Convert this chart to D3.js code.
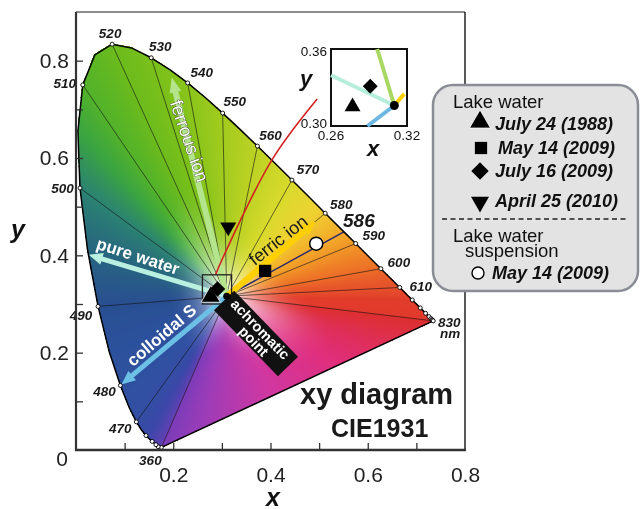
<!DOCTYPE html>
<html>
<head>
<meta charset="utf-8">
<script src="https://cdn.jsdelivr.net/npm/d3@7.9.0/dist/d3.min.js"></script>
<style>
  body { margin: 0; background: #fff; }
  #wrap { position: relative; width: 641px; height: 509px; overflow: hidden; }
  #wrap canvas, #wrap svg { position: absolute; left: 0; top: 0; }
  text { font-family: "Liberation Sans", Arial, sans-serif; }
</style>
</head>
<body>
<div id="wrap">
  <canvas id="gamut" width="641" height="509"></canvas>
  <svg id="chart" width="641" height="509"></svg>
</div>
<script>
// spectral locus, CIE 1931 2 deg observer
const nm = [360,365,370,375,380,385,390,395,400,405,
            410,415,420,425,430,435,440,445,450,455,
            460,465,470,475,480,485,490,495,500,505,
            510,515,520,525,530,535,540,545,550,555,
            560,565,570,575,580,585,590,595,600,605,
            610,615,620,625,630,635,640,645,650,655,
            660,665,670,675,680,685,690,695,700,830];
const cieX = [0.1756,0.1752,0.1748,0.1745,0.1741,0.1740,0.1738,0.1736,0.1733,0.1730,
              0.1726,0.1721,0.1714,0.1703,0.1689,0.1669,0.1644,0.1611,0.1566,0.1510,
              0.1440,0.1355,0.1241,0.1096,0.0913,0.0687,0.0454,0.0235,0.0082,0.0039,
              0.0139,0.0389,0.0743,0.1142,0.1547,0.1929,0.2296,0.2658,0.3016,0.3374,
              0.3731,0.4087,0.4441,0.4788,0.5125,0.5448,0.5752,0.6029,0.6270,0.6482,
              0.6658,0.6801,0.6915,0.7006,0.7079,0.7140,0.7190,0.7230,0.7260,0.7283,
              0.7300,0.7311,0.7320,0.7327,0.7334,0.7340,0.7344,0.7346,0.7347,0.7347];
const cieY = [0.0053,0.0053,0.0052,0.0052,0.0050,0.0050,0.0049,0.0049,0.0048,0.0048,
              0.0048,0.0048,0.0051,0.0058,0.0069,0.0086,0.0109,0.0138,0.0177,0.0227,
              0.0297,0.0399,0.0578,0.0868,0.1327,0.2007,0.2950,0.4127,0.5384,0.6548,
              0.7502,0.8120,0.8338,0.8262,0.8059,0.7816,0.7543,0.7243,0.6923,0.6589,
              0.6245,0.5896,0.5547,0.5202,0.4866,0.4544,0.4242,0.3965,0.3725,0.3514,
              0.3340,0.3197,0.3083,0.2993,0.2920,0.2859,0.2809,0.2770,0.2740,0.2717,
              0.2700,0.2689,0.2680,0.2673,0.2666,0.2660,0.2656,0.2654,0.2653,0.2653];

const labelledNm = [360,470,480,490,500,510,520,530,540,550,560,570,580,590,600,610,830];
const markedNm = [360,430,440,450,460,470,480,490,500,510,520,530,540,550,560,570,580,590,
                  600,610,620,630,640,650,660,670,680,830];
const radialNm = [360,470,480,490,500,510,520,530,540,550,560,570,580,590,600,610,830];
const dominantNm = 586;

const achromatic = [0.310, 0.316];

// lake water samples
const sampleLabels = ['July 24 (1988)', 'May 14 (2009)', 'July 16 (2009)', 'April 25 (2010)'];
const sampleX = [0.277, 0.389, 0.291, 0.313];
const sampleY = [0.315, 0.368, 0.331, 0.458];
// lake water suspension
const suspensionLabels = ['May 14 (2009)'];
const suspensionX = [0.494];
const suspensionY = [0.424];

// direction arrows (end points)
const pureWaterEnd = [0.026, 0.401];
const connector = [[0.287, 0.36], [0.302, 0.395], [0.403, 0.596], [0.496, 0.721]];

// ---------- layout / style ----------
const x = d3.scaleLinear([0, 0.8], [76, 465]);
const y = d3.scaleLinear([0, 0.9], [450, 12]);
const xi = d3.scaleLinear([0.26, 0.32], [331, 407]);
const yi = d3.scaleLinear([0.30, 0.36], [126, 49]);

const labelOffset = {
  360: [-11, 17.6], 470: [-16, 11], 480: [-16, 10.6], 490: [-17, 13.5], 500: [-17.5, 5],
  510: [-18, 3], 520: [-2, -6], 530: [9, -7], 540: [14, -6], 550: [12, -7], 560: [13, -6],
  570: [16, -6], 580: [16, -4], 590: [18, -4], 600: [18, -2], 610: [21, 3.5], 830: [16, 6]
};

const edgeNm = [360, 440, 460, 475, 485, 490, 495, 500, 505, 510, 520, 535, 550, 560, 570, 578, 585, 595, 605, 620, 830];
const edgeColors = ['#7a3cb8', '#5442b0', '#3a48a8', '#3150a2', '#2c519c', '#294f92', '#27657f', '#2b8272',
                    '#3aa442', '#52b22a', '#6cbb1c', '#80c21a', '#a2cb1e', '#bcd224', '#d8da2c', '#efd232',
                    '#f3ae2a', '#ee7e26', '#e85a2a', '#e23c2c', '#dd2f2e'];
const nmColor = d3.scaleLinear().domain(edgeNm).range(edgeColors).clamp(true);
const purpleColor = d3.scaleLinear().domain([0, 0.35, 0.6, 0.85, 1])
  .range(['#dd2f2e', '#e02e7c', '#cf38a2', '#9c3cb8', '#7a3cb8']);

function locus(l) {
  const i = d3.bisectRight(nm, l) - 1;
  if (i >= nm.length - 1) return [cieX[nm.length - 1], cieY[nm.length - 1]];
  const f = (l - nm[i]) / (nm[i + 1] - nm[i]);
  return [cieX[i] + f * (cieX[i + 1] - cieX[i]), cieY[i] + f * (cieY[i + 1] - cieY[i])];
}
function toward(p, f) {
  return [achromatic[0] + f * (p[0] - achromatic[0]), achromatic[1] + f * (p[1] - achromatic[1])];
}

// ---------- colour fill on canvas ----------
(function paintGamut() {
  const W = achromatic, n = nm.length, N = 2048;
  const a0 = Math.atan2(cieY[0] - W[1], cieX[0] - W[0]);
  const R = new Float32Array(N), TC = new Float32Array(N);
  const CR = new Float32Array(N), CG = new Float32Array(N), CB = new Float32Array(N);
  for (let b = 0; b < N; b++) {
    const th = a0 + (b + 0.5) / N * 2 * Math.PI;
    const dx = Math.cos(th), dy = Math.sin(th);
    let best = Infinity, col = null, tc = 0.45;
    for (let i = 0; i < n; i++) {
      const j = (i + 1) % n;
      const ex = cieX[j] - cieX[i], ey = cieY[j] - cieY[i];
      const den = dx * ey - dy * ex;
      if (Math.abs(den) < 1e-12) continue;
      const wx = cieX[i] - W[0], wy = cieY[i] - W[1];
      const t = (wx * ey - wy * ex) / den;
      const s = (wx * dy - wy * dx) / den;
      if (t > 0 && s >= -1e-6 && s <= 1 + 1e-6 && t < best) {
        best = t;
        if (j === 0) {
          col = purpleColor(s);
          tc = 0.45 + 0.45 * Math.pow(Math.sin(Math.PI * Math.min(1, s * 1.25)), 1.5);
        } else {
          col = nmColor(nm[i] + s * (nm[j] - nm[i]));
          tc = 0.45;
        }
      }
    }
    R[b] = best; TC[b] = tc;
    const c = d3.rgb(col);
    CR[b] = c.r; CG[b] = c.g; CB[b] = c.b;
  }
  const ctx = document.getElementById('gamut').getContext('2d');
  const img = ctx.createImageData(641, 509);
  for (let py = 10; py < 452; py++) {
    for (let px = 74; px < 467; px++) {
      const xd = x.invert(px + 0.5) - W[0], yd = y.invert(py + 0.5) - W[1];
      const r = Math.hypot(xd, yd);
      let a = Math.atan2(yd, xd) - a0;
      a = ((a % (2 * Math.PI)) + 2 * Math.PI) % (2 * Math.PI);
      const b = Math.min(N - 1, Math.floor(a / (2 * Math.PI) * N));
      if (r > R[b] * 1.004) continue;
      const u = Math.min(1, r / R[b] / TC[b]);
      const f = 1 - (1 - u) * (1 - u);
      const q = (py * 641 + px) * 4;
      img.data[q] = 255 * (1 - f) + CR[b] * f;
      img.data[q + 1] = 255 * (1 - f) + CG[b] * f;
      img.data[q + 2] = 255 * (1 - f) + CB[b] * f;
      img.data[q + 3] = 255;
    }
  }
  ctx.putImageData(img, 0, 0);
})();

// ---------- svg ----------
const svg = d3.select('#chart');
const W = [x(achromatic[0]), y(achromatic[1])];

// radial lines
svg.append('g').selectAll('line').data(radialNm).join('line')
  .attr('x1', W[0]).attr('y1', W[1])
  .attr('x2', d => x(locus(d)[0])).attr('y2', d => y(locus(d)[1]))
  .attr('stroke', '#111').attr('stroke-width', 0.6);
svg.append('line')
  .attr('x1', W[0]).attr('y1', W[1])
  .attr('x2', x(locus(dominantNm)[0])).attr('y2', y(locus(dominantNm)[1]))
  .attr('stroke', '#26266e').attr('stroke-width', 1.4);

function arrow(p0, p1, color, w, hl, hw) {
  const x0 = x(p0[0]), y0 = y(p0[1]), x1 = x(p1[0]), y1 = y(p1[1]);
  const L = Math.hypot(x1 - x0, y1 - y0), ux = (x1 - x0) / L, uy = (y1 - y0) / L;
  const bx = x1 - ux * hl, by = y1 - uy * hl;
  const g = svg.append('g');
  g.append('line').attr('x1', x0).attr('y1', y0).attr('x2', bx + ux).attr('y2', by + uy)
    .attr('stroke', color).attr('stroke-width', w);
  g.append('path')
    .attr('d', `M${x1},${y1}L${bx - uy * hw / 2},${by + ux * hw / 2}L${bx + uy * hw / 2},${by - ux * hw / 2}Z`)
    .attr('fill', color);
}
arrow(achromatic, toward(locus(535), 0.965), '#b4e48c', 6, 15, 12);
arrow(achromatic, toward(locus(580), 0.9), '#ffd000', 6, 14, 13);
arrow(achromatic, pureWaterEnd, '#b9f0df', 5, 14, 12);
arrow(achromatic, toward(locus(480), 0.99), '#6cc0e6', 5, 14, 12);

// spectral locus outline (closed by the purple line)
const locusPts = nm.map((d, i) => [x(cieX[i]), y(cieY[i])]);
svg.append('path').attr('d', d3.line()(locusPts) + 'Z')
  .attr('fill', 'none').attr('stroke', '#000').attr('stroke-width', 1.5).attr('stroke-linejoin', 'round');

svg.append('g').selectAll('circle').data(markedNm).join('circle')
  .attr('cx', d => x(locus(d)[0])).attr('cy', d => y(locus(d)[1])).attr('r', 2)
  .attr('fill', '#fff').attr('stroke', '#000').attr('stroke-width', 0.9);

svg.append('g').selectAll('text').data(labelledNm).join('text')
  .attr('x', d => x(locus(d)[0]) + labelOffset[d][0])
  .attr('y', d => y(locus(d)[1]) + labelOffset[d][1])
  .attr('text-anchor', 'middle')
  .attr('font-size', 13.5).attr('font-weight', 'bold').attr('font-style', 'italic').attr('fill', '#1a1a1a')
  .text(d => d);
svg.append('text').attr('x', x(locus(830)[0]) + 17).attr('y', y(locus(830)[1]) + 17)
  .attr('text-anchor', 'middle').attr('font-size', 13.5).attr('font-weight', 'bold').attr('font-style', 'italic')
  .attr('fill', '#1a1a1a').text('nm');
svg.append('text').attr('x', x(locus(dominantNm)[0]) + 15).attr('y', y(locus(dominantNm)[1]) - 5)
  .attr('text-anchor', 'middle').attr('font-size', 19).attr('font-weight', 'bold').attr('font-style', 'italic')
  .attr('fill', '#1a1a1a').text(dominantNm);

// arrow captions
function caption(txt, cx, cy, ang, opts) {
  const t = svg.append('text').attr('transform', `translate(${cx},${cy}) rotate(${ang})`)
    .attr('text-anchor', 'middle').attr('dy', '0.35em')
    .attr('font-size', opts.size).attr('font-weight', opts.weight || 'normal')
    .attr('fill', opts.fill).text(txt);
  if (opts.stroke) t.attr('stroke', opts.stroke).attr('stroke-width', 0.7).attr('paint-order', 'stroke');
}
caption('ferrous ion', 189.5, 141, 71, { size: 18, fill: '#ffffff', stroke: '#333' });
caption('ferric ion', 278, 240, -38, { size: 18, fill: '#1a1a1a' });
caption('pure water', 138, 256, 18, { size: 17, weight: 'bold', fill: '#ffffff' });
caption('colloidal S', 161.5, 335, -40.5, { size: 17, weight: 'bold', fill: '#ffffff' });

// connector to inset
svg.append('path').attr('d', d3.line().x(d => x(d[0])).y(d => y(d[1])).curve(d3.curveCatmullRom)(connector))
  .attr('fill', 'none').attr('stroke', '#d42222').attr('stroke-width', 1.6);

// zoom box
svg.append('rect').attr('x', x(0.26)).attr('y', y(0.36)).attr('width', x(0.32) - x(0.26)).attr('height', y(0.30) - y(0.36))
  .attr('fill', 'none').attr('stroke', '#222').attr('stroke-width', 1.3);

// achromatic point label
const ach = svg.append('g').attr('transform', 'translate(256,333.5) rotate(46)');
ach.append('rect').attr('x', -46).attr('y', -14).attr('width', 92).attr('height', 28).attr('fill', '#111');
ach.append('text').attr('x', 0).attr('y', -1).attr('text-anchor', 'middle').attr('font-size', 14.5)
  .attr('font-weight', 'bold').attr('fill', '#fff').text('achromatic');
ach.append('text').attr('x', 4).attr('y', 12).attr('text-anchor', 'middle').attr('font-size', 14.5)
  .attr('font-weight', 'bold').attr('fill', '#fff').text('point');

// sample markers
const symTypes = [d3.symbolTriangle, d3.symbolSquare, d3.symbolSquare, d3.symbolTriangle];
const symRot = [0, 0, 45, 180];
const symSize = [160, 150, 120, 110];
svg.append('circle').attr('cx', W[0]).attr('cy', W[1]).attr('r', 3.5).attr('fill', '#000');
svg.append('g').selectAll('path').data(sampleLabels).join('path')
  .attr('transform', (d, i) => `translate(${x(sampleX[i])},${y(sampleY[i])}) rotate(${symRot[i]})`)
  .attr('d', (d, i) => d3.symbol(symTypes[i], symSize[i])())
  .attr('fill', '#000').attr('stroke', (d, i) => i === 0 ? '#fff' : 'none').attr('stroke-width', 0.8);
svg.append('g').selectAll('circle').data(suspensionLabels).join('circle')
  .attr('cx', (d, i) => x(suspensionX[i])).attr('cy', (d, i) => y(suspensionY[i])).attr('r', 6.5)
  .attr('fill', '#fff').attr('stroke', '#000').attr('stroke-width', 1.5);

// diagram title
svg.append('text').attr('x', 300).attr('y', 404).attr('font-size', 29).attr('font-weight', 'bold')
  .attr('fill', '#1a1a1a').text('xy diagram');
svg.append('text').attr('x', 331).attr('y', 437).attr('font-size', 25).attr('font-weight', 'bold')
  .attr('fill', '#1a1a1a').text('CIE1931');

// ---------- inset ----------
const inset = svg.append('g');
inset.append('rect').attr('x', xi(0.26)).attr('y', yi(0.36)).attr('width', xi(0.32) - xi(0.26))
  .attr('height', yi(0.30) - yi(0.36)).attr('fill', '#fff').attr('stroke', '#111').attr('stroke-width', 2);
const insetLines = [[[0.26, 0.3395], '#b6eedc'], [[0.2965, 0.36], '#a9d862'], [[0.3178, 0.325], '#ffd000'], [[0.2888, 0.30], '#6cb8e2']];
insetLines.forEach(([p, c]) => {
  inset.append('line').attr('x1', xi(achromatic[0])).attr('y1', yi(achromatic[1]))
    .attr('x2', xi(p[0])).attr('y2', yi(p[1])).attr('stroke', c).attr('stroke-width', 4);
});
inset.append('circle').attr('cx', xi(achromatic[0])).attr('cy', yi(achromatic[1])).attr('r', 4.5).attr('fill', '#000');
inset.append('path').attr('transform', `translate(${xi(sampleX[0])},${yi(sampleY[0])})`)
  .attr('d', d3.symbol(d3.symbolTriangle, 110)()).attr('fill', '#000');
inset.append('path').attr('transform', `translate(${xi(sampleX[2])},${yi(sampleY[2])}) rotate(45)`)
  .attr('d', d3.symbol(d3.symbolSquare, 110)()).attr('fill', '#000');
[[0.36, 56], [0.30, 128]].forEach(([v, b]) => {
  inset.append('text').attr('x', 327).attr('y', b).attr('text-anchor', 'end').attr('font-size', 13.5)
    .attr('fill', '#111').text(v.toFixed(2));
});
[0.26, 0.32].forEach(v => {
  inset.append('text').attr('x', xi(v)).attr('y', 140).attr('text-anchor', 'middle').attr('font-size', 13.5)
    .attr('fill', '#111').text(v.toFixed(2));
});
inset.append('text').attr('x', 306).attr('y', 86).attr('text-anchor', 'middle').attr('font-size', 22)
  .attr('font-weight', 'bold').attr('font-style', 'italic').attr('fill', '#111').text('y');
inset.append('text').attr('x', 373).attr('y', 156).attr('text-anchor', 'middle').attr('font-size', 22)
  .attr('font-weight', 'bold').attr('font-style', 'italic').attr('fill', '#111').text('x');

// ---------- axes ----------
const axes = svg.append('g');
axes.append('g').attr('transform', 'translate(0,450)')
  .call(d3.axisBottom(x).tickValues([0.1, 0.2, 0.3, 0.4, 0.5, 0.6, 0.7]).tickSize(-7).tickFormat(''))
  .call(g => g.select('.domain').remove())
  .call(g => g.selectAll('line').attr('stroke', '#333').attr('stroke-width', 1.3));
axes.append('g').attr('transform', 'translate(76,0)')
  .call(d3.axisLeft(y).tickValues([0.1, 0.2, 0.3, 0.4, 0.5, 0.6, 0.7, 0.8]).tickSize(-7).tickFormat(''))
  .call(g => g.select('.domain').remove())
  .call(g => g.selectAll('line').attr('stroke', '#333').attr('stroke-width', 1.3));
axes.append('g').attr('transform', 'translate(0,450)')
  .call(d3.axisBottom(x).tickValues([0.2, 0.4, 0.6, 0.8]).tickSize(0).tickPadding(17).tickFormat(d3.format('.1f')))
  .call(g => g.select('.domain').remove())
  .call(g => g.selectAll('text').attr('font-size', 21).attr('fill', '#222').attr('font-family', '"Liberation Sans", Arial, sans-serif'));
axes.append('g').attr('transform', 'translate(76,0)')
  .call(d3.axisLeft(y).tickValues([0, 0.2, 0.4, 0.6, 0.8]).tickSize(0).tickPadding(7)
    .tickFormat(d => d === 0 ? '0' : d3.format('.1f')(d)))
  .call(g => g.select('.domain').remove())
  .call(g => g.selectAll('text').attr('font-size', 21).attr('fill', '#222').attr('font-family', '"Liberation Sans", Arial, sans-serif'))
  .call(g => g.selectAll('.tick').filter(d => d === 0).select('text').attr('dy', '0.75em').attr('x', -8));
// frame
axes.append('line').attr('x1', 76).attr('x2', 465).attr('y1', 12).attr('y2', 12).attr('stroke', '#666').attr('stroke-width', 1.6);
axes.append('line').attr('x1', 465).attr('x2', 465).attr('y1', 12).attr('y2', 450).attr('stroke', '#222').attr('stroke-width', 1.5);
axes.append('line').attr('x1', 76).attr('x2', 76).attr('y1', 12).attr('y2', 451).attr('stroke', '#333').attr('stroke-width', 2.2);
axes.append('line').attr('x1', 75).attr('x2', 466).attr('y1', 450).attr('y2', 450).attr('stroke', '#333').attr('stroke-width', 2.4);
axes.append('text').attr('x', 18).attr('y', 238).attr('text-anchor', 'middle').attr('font-size', 25)
  .attr('font-weight', 'bold').attr('font-style', 'italic').attr('fill', '#111').text('y');
axes.append('text').attr('x', 273).attr('y', 506).attr('text-anchor', 'middle').attr('font-size', 25)
  .attr('font-weight', 'bold').attr('font-style', 'italic').attr('fill', '#111').text('x');

// ---------- legend ----------
const lg = svg.append('g');
lg.append('rect').attr('x', 433).attr('y', 85).attr('width', 205).attr('height', 206).attr('rx', 20)
  .attr('fill', '#e3e3e3').attr('stroke', '#8b8d95').attr('stroke-width', 2.5);
lg.append('text').attr('x', 453).attr('y', 108).attr('font-size', 18.5).attr('fill', '#111').text('Lake water');
const legendY = [130, 154, 177, 207];
const legendSym = [[480, 122], [481, 148], [480, 171], [480, 202]];
const legendSize = [190, 150, 150, 140];
lg.selectAll('path.sym').data(sampleLabels).join('path').attr('class', 'sym')
  .attr('transform', (d, i) => `translate(${legendSym[i][0]},${legendSym[i][1]}) rotate(${symRot[i]})`)
  .attr('d', (d, i) => d3.symbol(symTypes[i], legendSize[i])())
  .attr('fill', '#000').attr('stroke', (d, i) => i === 0 ? '#fff' : 'none').attr('stroke-width', 0.8);
lg.selectAll('text.item').data(sampleLabels).join('text').attr('class', 'item')
  .attr('x', (d, i) => i === 1 ? 498 : 495).attr('y', (d, i) => legendY[i])
  .attr('font-size', 18).attr('font-weight', 'bold').attr('font-style', 'italic').attr('fill', '#111')
  .text(d => d);
lg.append('line').attr('x1', 442).attr('x2', 628).attr('y1', 219).attr('y2', 219)
  .attr('stroke', '#222').attr('stroke-width', 1.6).attr('stroke-dasharray', '5,3.5');
lg.append('text').attr('x', 453).attr('y', 242).attr('font-size', 18.5).attr('fill', '#111').text('Lake water');
lg.append('text').attr('x', 465).attr('y', 257).attr('font-size', 18.5).attr('fill', '#111').text('suspension');
lg.append('circle').attr('cx', 478).attr('cy', 273).attr('r', 6).attr('fill', '#fff').attr('stroke', '#000').attr('stroke-width', 1.4);
lg.append('text').attr('x', 492).attr('y', 279).attr('font-size', 18).attr('font-weight', 'bold')
  .attr('font-style', 'italic').attr('fill', '#111').text(suspensionLabels[0]);
</script>
</body>
</html>
